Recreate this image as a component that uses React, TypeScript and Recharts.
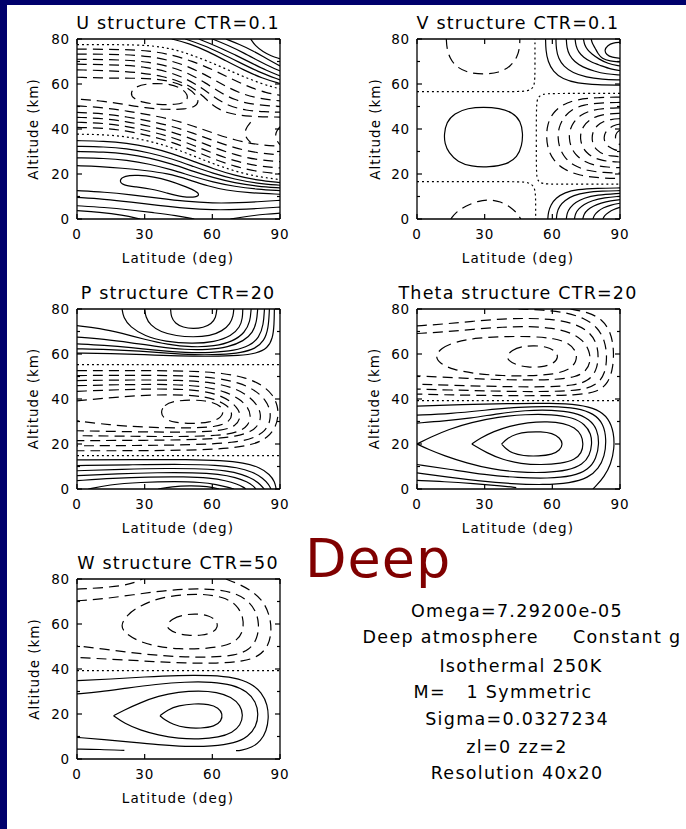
import React from 'react';
import { LineChart, Line, XAxis, YAxis } from 'recharts';

// Each curve: flattened [lat, alt, lat, alt, ...] pairs.
// ---------- U structure ----------
const uZero = [
  [0, 77.5, 20, 77.5, 32, 77.2, 42, 75.8, 52, 72.5, 62, 68.5, 72, 64, 82, 60, 90, 57.8],
  [0, 37.7, 12, 37.5, 22, 36.6, 32, 34.7, 42, 31.8, 52, 27.9, 60, 24.7, 70, 21.2, 80, 18.8, 90, 17.5],
];
const uPositive = [
  [42, 80, 50, 78, 58, 74.5, 66, 70.3, 74, 66.2, 82, 62.6, 90, 60.2],
  [48, 80, 56, 77.3, 64, 73.6, 72, 69.6, 80, 65.6, 90, 61.8],
  [54, 80, 62, 76.8, 70, 73, 78, 69, 84, 66, 90, 63.6],
  [60, 80, 67, 77.2, 74, 73.8, 81, 70, 86, 67.5, 90, 65.8],
  [66, 80, 72, 77.6, 78, 74.8, 84, 71.3, 90, 68],
  [77, 80, 79, 77, 82.5, 74.3, 86, 72.5, 90, 71.2],
  [0, 34.8, 12, 34.6, 22, 33.8, 32, 32, 42, 29.2, 52, 25.5, 60, 22.5, 70, 19.3, 80, 17.2, 90, 16.2],
  [0, 32.3, 12, 32.1, 22, 31.3, 32, 29.5, 42, 26.8, 52, 23.2, 60, 20.4, 70, 17.6, 80, 15.8, 90, 15],
  [0, 30, 12, 29.8, 22, 29, 32, 27.2, 42, 24.5, 52, 21, 60, 18.5, 70, 16, 80, 14.5, 90, 13.8],
  [0, 27.2, 12, 27, 22, 26.2, 32, 24.5, 42, 21.9, 52, 18.7, 60, 16.5, 70, 14.4, 80, 13.2, 90, 12.6],
  [0, 23.7, 10, 23.4, 20, 22.6, 30, 21.6, 40, 20.3, 50, 17.4, 58, 14.6, 66, 12.8, 76, 11.6, 90, 11],
  [0, 12.6, 12, 12, 24, 10.8, 36, 9.3, 48, 7.8, 60, 7, 72, 7.2, 82, 7.8, 90, 8.3],
  [0, 9.6, 12, 8.8, 24, 7.5, 36, 6, 48, 4.7, 60, 4, 72, 4.2, 82, 4.8, 90, 5.3],
  [0, 5.9, 12, 5.2, 24, 4, 34, 2.8, 44, 1.5, 52, 0],
  [0, 3.7, 10, 3, 20, 1.8, 28, 0],
  [68, 0, 76, 1.3, 84, 2.2, 90, 2.6],
];
const uPositiveLoops = [
  [18.5, 17, 21, 19.3, 27, 19.5, 34, 18.8, 41, 17, 47, 14.8, 52, 12.8, 54.5, 11, 53, 9.6, 47, 9.7, 40, 11.5, 33, 13.4, 26, 14.3, 20.5, 14.9],
];
const uNegative = [
  [0, 75.5, 20, 75.4, 32, 74.8, 42, 73, 51, 70.2, 60, 66.5, 68, 62.5, 76, 58.8, 84, 56, 90, 55],
  [0, 73.3, 20, 73.2, 32, 72.4, 42, 70.3, 50, 67.5, 58, 63.5, 65, 59.5, 72, 56, 80, 53.6, 90, 52.5],
  [0, 71, 20, 70.8, 32, 69.8, 42, 67.5, 50, 64.5, 57, 60.5, 63, 56.5, 70, 52.8, 78, 50.8, 90, 50],
  [0, 68.8, 20, 68.5, 30, 67.6, 40, 65.6, 48, 62.6, 55, 58.5, 61, 54, 67, 50.3, 75, 48.2, 83, 47.6, 90, 47.5],
  [0, 66.3, 18, 65.8, 28, 65, 38, 63.5, 46, 61, 52, 58, 56, 54.5, 60, 50.5, 66, 47, 76, 45.5, 90, 45.3],
  [0, 63, 14, 62.6, 24, 62.6, 34, 62.4, 42, 61.2, 49, 58.5, 53, 55, 54, 52, 52.5, 50, 48, 48.8, 40, 48.6, 30, 49.4, 22, 50.8, 12, 52.4, 0, 53.3],
  [0, 50.3, 12, 49.5, 22, 48, 32, 46.3, 42, 44.3, 52, 41.2, 60, 38.3, 70, 35, 80, 33, 90, 32.3],
  [0, 47.4, 12, 46.8, 22, 45.4, 32, 43.6, 42, 41.3, 52, 38, 60, 35, 70, 31.5, 80, 29.3, 90, 28.5],
  [0, 45.2, 12, 44.7, 22, 43.3, 32, 41.3, 42, 38.8, 52, 35.2, 60, 32, 70, 28.5, 80, 26.2, 90, 25.5],
  [0, 43, 12, 42.6, 22, 41.2, 32, 39.1, 42, 36.4, 52, 32.6, 60, 29.3, 70, 25.7, 80, 23.5, 90, 22.7],
  [0, 40.7, 12, 40.4, 22, 39.2, 32, 37.1, 42, 34.2, 52, 30.3, 60, 26.9, 70, 23.3, 80, 21, 90, 20.1],
  [77, 43, 74.5, 40, 74.5, 36.5, 77, 34],
  [90, 41, 88, 38.5, 88, 35.5, 90, 33],
];
const uNegativeLoops = [
  [23.5, 56, 26, 59, 32, 60.3, 40, 60.2, 46, 58.5, 49.5, 55, 48.5, 52, 44, 50.8, 36, 50.8, 29, 51.8, 25, 53.5],
];

// ---------- V structure ----------
const vZero = [
  [0, 56.6, 25, 56.6, 44, 56.6, 49.5, 56.8, 51.8, 58.5, 52.3, 62, 52.3, 70, 52.3, 80],
  [90, 55.8, 75, 55.8, 60, 55.8, 55.5, 55.6, 53.5, 54, 52.9, 51, 52.9, 35, 52.9, 20, 53.4, 17, 55.5, 15.6, 60, 15.5, 75, 15.5, 90, 15.5],
  [0, 16.6, 25, 16.6, 44, 16.6, 49.5, 16.4, 52, 14.5, 52.6, 11, 52.6, 5, 52.6, 0],
];
const vPositive = [
  [57, 80, 57.1, 75, 58, 70, 60.3, 65.5, 64.5, 62.2, 71, 60.3, 80, 59.6, 90, 59.5],
  [61.6, 80, 61.7, 75.5, 62.7, 71.3, 65, 67.8, 69, 65, 75, 63, 82, 62.1, 90, 61.8],
  [66.2, 80, 66.4, 76.2, 67.5, 72.8, 69.8, 69.9, 73.4, 67.5, 78.5, 65.7, 84, 64.4, 90, 64],
  [70.1, 80, 70.4, 77, 71.6, 74.2, 73.8, 71.8, 77, 69.8, 81.5, 68.2, 86, 66.5, 90, 66],
  [73.8, 80, 74.2, 77.5, 75.5, 75.2, 77.6, 73.2, 80.5, 71.2, 84.5, 69, 90, 68],
  [77.2, 80, 77.7, 78, 79, 76, 80.2, 73.5, 82, 71.3, 85.5, 70.2, 90, 69.8],
  [90, 78.5, 87, 78.3, 84.5, 77.2, 83, 75, 84, 73, 86.5, 71.8, 90, 71.4],
  [58, 0, 58.2, 3, 59.3, 6.3, 61.5, 9.3, 65.5, 11.8, 71, 13.2, 80, 13.7, 90, 13.8],
  [61.8, 0, 62, 2.8, 63.2, 5.8, 65.5, 8.3, 69.3, 10.5, 75, 11.9, 82, 12.4, 90, 12.6],
  [66.2, 0, 66.5, 2.6, 67.8, 5.1, 70.2, 7.4, 74, 9.3, 79.5, 10.7, 90, 11.4],
  [69.8, 0, 70.2, 2.4, 71.6, 4.5, 74, 6.5, 77.5, 8.2, 83, 9.5, 90, 10.1],
  [73.5, 0, 74, 2.2, 75.5, 4, 78, 5.7, 81.5, 7.1, 86, 8.2, 90, 8.6],
  [78, 0, 78.6, 1.8, 80.2, 3.5, 82.6, 5, 86, 6.3, 90, 7],
  [82.4, 0, 83.1, 1.5, 84.8, 2.9, 87.2, 4.3, 90, 5.2],
];
const vPositiveLoops = [
  [12, 37.5, 13, 43, 16.5, 47, 22.5, 49.3, 29.5, 49.8, 36.5, 49.3, 42.5, 47.3, 46, 43.5, 47, 38, 46.5, 32.5, 44.5, 27.5, 40, 24.3, 32, 23, 24, 23.3, 18, 25.3, 14, 29.5, 12.3, 33.5],
];
const vNegative = [
  [13, 80, 13.2, 76, 14.5, 71.5, 17.5, 67.5, 22.5, 65, 29.5, 64.2, 36.5, 65, 41.5, 67.8, 44.5, 72, 45.5, 76, 45.6, 80],
  [15, 0, 17, 2.8, 21.5, 5.8, 27, 8, 32, 8.7, 37, 7.8, 41.5, 5.3, 44.5, 2.5, 46, 0],
  [90, 54.2, 80, 54, 71, 53.2, 64.5, 51, 60, 47, 57.8, 42, 57.3, 36.5, 58, 31, 60.5, 26, 65, 22, 72, 19.3, 81, 18.2, 90, 18],
  [90, 51.8, 81, 51.6, 74, 50.8, 68.5, 48.7, 64.8, 45, 62.8, 40.5, 62.4, 36, 63.2, 31.3, 65.6, 27, 69.5, 23.7, 75.5, 21.4, 83, 20.6, 90, 20.4],
  [90, 49.4, 83, 49.2, 77, 48.3, 72.3, 46.2, 69.3, 43, 67.7, 39.5, 67.4, 36, 68.2, 32, 70.2, 28.6, 73.5, 25.8, 78.5, 23.8, 84.5, 23, 90, 22.8],
  [90, 47, 85, 46.8, 80, 45.9, 76.3, 44, 73.8, 41.3, 72.6, 38.5, 72.4, 35.5, 73.2, 32.3, 75, 29.6, 78, 27.3, 82, 26, 86, 25.5, 90, 25.3],
  [90, 44.6, 86, 44.3, 82.5, 43.4, 79.8, 41.6, 78, 39, 77.5, 36, 78, 33, 79.7, 30.6, 82.3, 28.8, 86, 27.9, 90, 27.7],
  [90, 42.2, 87.5, 41.7, 85, 40.3, 83.3, 38.3, 82.8, 36, 83.4, 33.7, 85, 32, 87.5, 30.7, 90, 30.3],
  [90, 39.5, 88.5, 38.5, 87.8, 36.5, 88.3, 34.5, 90, 33],
];

// ---------- P structure ----------
const pZero = [
  [0, 55.3, 45, 55.3, 90, 55.3],
  [0, 14.8, 45, 14.8, 90, 14.8],
];
const pPositive = [
  [41.5, 80, 41.7, 76.5, 43.5, 73.6, 47, 71.8, 51.5, 71.2, 56, 71.7, 59.6, 73.4, 61.6, 76.2, 62, 80],
  [30, 80, 30.4, 76.5, 32.5, 72.8, 37, 69.8, 44, 68, 51.5, 67.5, 59, 68, 64.5, 70.2, 68, 73.5, 69.3, 77, 69.5, 80],
  [20, 80, 20.5, 76.3, 23.5, 72, 30, 68, 39, 65.5, 51, 64.5, 61, 65.3, 68.5, 68, 72.3, 72, 73.4, 76, 73.5, 80],
  [0, 72.6, 10, 71.5, 20, 69.2, 30, 66.5, 40, 64.2, 51, 63, 61, 63.4, 69, 65.5, 74.5, 69.5, 76.8, 74.5, 77.2, 80],
  [0, 67.5, 12, 66.6, 24, 65, 36, 63.2, 48, 61.9, 58, 61.9, 67, 63, 74, 65.8, 78, 69.5, 79.7, 74.5, 80.1, 80],
  [0, 64.5, 12, 63.9, 24, 62.9, 36, 61.5, 48, 60.6, 60, 60.6, 70, 61.5, 76.5, 63.6, 80.8, 67.3, 82.7, 73, 83.1, 80],
  [0, 62.3, 14, 62, 28, 61.3, 40, 60.3, 52, 59.6, 64, 59.7, 73, 60.6, 79, 62.3, 83, 65.8, 84.9, 71.5, 85.3, 80],
  [0, 60.4, 15, 60.2, 30, 59.7, 45, 59.1, 60, 58.9, 72, 59.3, 79.5, 60.2, 84.5, 62.5, 86.8, 67, 87.4, 73, 87.5, 80],
  [0, 12.9, 25, 13.1, 50, 13.1, 64, 12.7, 74, 11.7, 81, 9.6, 85.5, 6.5, 87.7, 3.2, 88.3, 0],
  [0, 10.4, 25, 10.8, 48, 11, 62, 10.6, 71, 9.6, 78, 7.6, 82.5, 4.8, 85, 2, 86, 0],
  [0, 8.1, 20, 8.8, 40, 9.2, 56, 9, 66, 8.2, 73.5, 6.5, 78.5, 4.2, 81.5, 1.8, 83, 0],
  [0, 5.9, 18, 6.8, 36, 7.3, 52, 7.3, 63, 6.6, 70.5, 5.1, 75.5, 3.2, 78.3, 1.3, 79.3, 0],
  [0, 3.7, 16, 4.8, 32, 5.4, 48, 5.5, 59, 4.9, 66, 3.7, 71, 2.2, 74, 0.7, 74.8, 0],
  [5, 0, 14, 1.9, 28, 3, 44, 3.4, 55, 3, 62, 2, 67, 0.8, 69.6, 0],
  [36, 0, 42, 1.1, 50, 1.5, 58, 1.2, 63, 0],
];
const pNegative = [
  [0, 52.6, 25, 52.7, 50, 52.5, 65, 51.5, 75, 49.5, 82, 46.3, 86.8, 42, 89, 37, 89.3, 32, 87.8, 27, 84.5, 22.8, 78.5, 19.8, 68, 18, 50, 17.2, 25, 17, 0, 17],
  [0, 50.4, 25, 50.6, 48, 50.4, 62, 49.4, 72, 47.2, 79, 44, 83.6, 39.6, 85.8, 35, 85.7, 30, 83.5, 25.8, 78.5, 22.6, 70, 20.6, 52, 19.6, 25, 19.3, 0, 19.2],
  [0, 48.2, 25, 48.5, 46, 48.4, 60, 47.4, 69.5, 45, 76, 41.5, 80, 37.3, 81.7, 33, 80.8, 28.8, 77.6, 25.6, 71, 23.4, 58, 22, 30, 21.6, 0, 21.5],
  [0, 45.9, 24, 46.5, 44, 46.5, 57, 45.5, 66, 43.2, 72, 40, 75.8, 36.5, 77.2, 32.5, 76, 28.3, 72, 25.3, 63, 23.7, 45, 23.2, 20, 23.5, 0, 23.7],
  [0, 43.4, 22, 44.3, 42, 44.6, 55, 43.8, 63, 41.8, 68.5, 38.8, 71.8, 35.2, 72.6, 31.8, 70.5, 28, 64, 25.8, 50, 25.2, 25, 25.4, 0, 25.9],
  [0, 39.2, 12, 40.3, 26, 41.5, 40, 42, 53, 41.6, 61, 40, 66.5, 37.3, 69, 34, 68, 30, 62, 27.6, 50, 27, 30, 27.4, 14, 28.5, 0, 30.3],
];
const pNegativeLoops = [
  [37, 34, 38.5, 37.3, 43, 39.1, 50, 39.6, 57, 39.3, 62.5, 37.8, 65.3, 35, 64, 31.6, 59, 29.6, 51, 29, 43, 29.5, 38.5, 31.3],
];

// ---------- Theta structure ----------
const tZero = [[0, 39.3, 45, 39.3, 90, 39.3]];
const tPositive = [
  [37.5, 20, 40, 22.5, 44, 24.5, 49, 25.4, 55, 25.5, 60, 24.8, 63.3, 22.8, 64.8, 20, 63.3, 17.2, 60, 15.3, 54, 14.6, 47, 14.7, 42, 16, 39.5, 17.8, 37.5, 20],
  [24.3, 20, 28, 22.6, 34, 25.6, 41, 28, 49, 29.6, 58, 30, 65, 29.3, 70, 27.3, 73, 24, 73.8, 20, 73, 16, 70, 13, 64, 11.3, 55, 10.7, 46, 11.2, 38, 13, 31, 16, 24.3, 20],
  [0, 20, 6, 23, 14, 26.5, 24, 29.6, 36, 32, 48, 33.2, 60, 33.2, 69, 31.8, 74.5, 28.8, 77.2, 24.5, 77.6, 20, 76.6, 15, 73.5, 10.8, 67, 8.2, 57, 7.2, 45, 7.4, 33, 8.8, 22, 11.5, 12, 14.8, 5, 17.6, 0, 20],
  [0, 29.3, 12, 30.2, 24, 31.5, 36, 33.5, 48, 35, 60, 35.2, 70, 34, 76.5, 31, 80, 26.5, 80.8, 20, 79.5, 13.5, 76, 8.5, 69, 5.6, 58, 4.7, 45, 5, 30, 6.3, 15, 8.7, 0, 10.9],
  [0, 32.8, 15, 33.5, 30, 35, 45, 36.5, 60, 36.8, 71, 36, 78.5, 33.5, 82.7, 29, 84, 22, 83.2, 14.5, 80.5, 9, 76, 5, 68, 2.6, 56, 1.8, 42, 2.3, 28, 3.5, 14, 5.2, 0, 7.2],
  [0, 36.8, 20, 37.5, 40, 38, 60, 38.2, 72, 37.5, 80, 35.5, 85, 31.5, 87.3, 25, 87.5, 18, 86, 11, 83, 5.5, 79.5, 1.5, 78, 0],
  [0, 3.8, 12, 3.3, 25, 2.4, 38, 1.3, 44, 0.6],
];
const tNegative = [
  [0, 69.1, 12, 69.8, 25, 71, 38, 72, 50, 72.3, 60, 71.6, 68, 69.6, 73.5, 66.3, 76.5, 61.5, 77, 56.5, 75, 52.3, 70.5, 49.8, 62, 48.6, 50, 48.4, 36, 48.6, 22, 49.2, 10, 49.8, 0, 50.3],
  [0, 72.5, 12, 73.3, 25, 74.6, 38, 75.6, 50, 75.9, 61, 75.4, 69.5, 73.6, 76, 70.3, 79.6, 65.3, 80.6, 59, 79.6, 52.5, 76, 48, 69.5, 46, 58, 45.4, 44, 45.4, 30, 45.7, 15, 46.1, 0, 46.6],
  [45, 80, 56, 79.6, 66, 78.5, 74, 76, 80, 72, 83.3, 66, 84.3, 59, 83.5, 51.5, 80, 46.3, 73, 43.9, 60, 43.3, 45, 43.3, 30, 43.6, 15, 44, 0, 44.4],
  [68, 80, 76, 78.5, 82, 75.5, 85.8, 70, 87.3, 62.5, 87, 54, 84.8, 47, 80, 43, 70, 41.7, 55, 41.4, 35, 41.5, 15, 41.8, 0, 42.2],
];
const tNegativeLoops = [
  [39.7, 59, 42, 61.8, 46.5, 63.4, 52, 63.8, 57.5, 63.2, 61.5, 61.3, 62.8, 58.5, 60.5, 55.6, 55.5, 54.2, 49, 54, 43.5, 55.3, 40.5, 57.2],
  [8, 59, 10.5, 62.5, 17, 65.5, 27, 67.2, 39, 67.8, 51, 67.8, 61, 67, 67.5, 64.8, 70.8, 61, 70.8, 56.5, 67.5, 53, 61, 51, 50, 50.2, 38, 50.3, 26, 51.2, 16, 53, 10, 55.8],
];

// ---------- W structure ----------
const wZero = [[0, 39.3, 45, 39.3, 90, 39.3]];
const wPositive = [
  [36.8, 19.2, 40, 21.8, 45, 23.8, 52, 24.6, 58.5, 24.4, 62.8, 22.8, 64.6, 20, 64, 16.8, 61, 14.5, 55, 13.6, 48, 13.8, 42.5, 15.4, 39, 17.3, 36.8, 19.2],
  [16.2, 19.2, 21, 21.8, 28, 25, 36, 28, 45, 29.8, 54, 30.4, 62, 29.8, 68.5, 27.6, 72.5, 23.8, 73.7, 19.5, 72.5, 15, 69, 11.7, 63, 9.6, 54, 8.8, 45, 9.1, 36, 10.6, 28, 12.8, 21, 15.8, 16.2, 19.2],
  [0, 28.9, 10, 29.8, 22, 31.5, 35, 33.2, 48, 34.3, 60, 34.3, 69, 33, 75.5, 30, 79.3, 25.5, 80.5, 20, 79.5, 14.5, 76, 10, 70, 7, 60, 5.6, 48, 5.5, 36, 6.3, 24, 7.5, 12, 8.7, 0, 9.6],
  [0, 34.8, 15, 35.5, 30, 36.5, 45, 37.2, 60, 37.2, 70, 36.2, 77, 33.8, 82, 29.5, 84.5, 24, 85, 18, 84, 12.5, 81.5, 8, 77.5, 5, 72.5, 3.8, 70.5, 3.7],
  [0, 4.4, 10, 4.3, 21, 3.8],
];
const wNegative = [
  [0, 70.3, 12, 71.2, 25, 73, 38, 74.8, 50, 75.7, 61, 75.5, 69.5, 74, 75.5, 70.8, 79.3, 66, 80.8, 60, 80, 53.5, 76.5, 48.5, 70, 46, 60, 45.2, 48, 45.3, 36, 46, 24, 47.3, 12, 48.8, 0, 50.3],
  [0, 75.5, 10, 76, 20, 77, 26, 78.5, 29, 80],
  [66, 80, 72.5, 77.5, 78.5, 74, 83, 69.5, 85.5, 63.5, 86.3, 57, 85, 50.5, 81, 45.8, 74, 43.3, 62, 42.5, 48, 42.6, 34, 43.3, 20, 44.1, 8, 44.7, 0, 45.1],
];
const wNegativeLoops = [
  [39.7, 59.5, 42, 62.3, 47, 64.1, 53, 64.6, 58.5, 63.8, 61.8, 61.6, 62.6, 58.8, 60.5, 56.2, 55.5, 54.9, 49, 54.8, 43.5, 56, 40.5, 57.8],
  [19, 59, 22, 64, 28, 68.2, 36, 71.4, 46, 73.1, 56, 73.4, 65, 72, 71, 68.5, 73.8, 63, 73.8, 57, 71, 52.5, 65, 50, 55, 48.9, 45, 48.9, 36, 49.8, 28, 52, 22, 55.3],
];

// ---------- axes ----------
const latTicks = [0, 30, 60, 90];
const altTicks = [0, 10, 20, 30, 40, 50, 60, 70, 80];

const infoLines = [
  'Omega=7.29200e-05',
  'Deep atmosphere     Constant g',
  'Isothermal 250K',
  'M=   1 Symmetric',
  'Sigma=0.0327234',
  'zl=0 zz=2',
  'Resolution 40x20',
];

const FONT = '"DejaVu Sans", Verdana, sans-serif';
const NAVY = '#00006c';

const toPoints = (c: number[]) => {
  const out: { x: number; y: number }[] = [];
  for (let i = 0; i < c.length; i += 2) out.push({ x: c[i], y: c[i + 1] });
  return out;
};

const PW = 203;
const PH = 180;
const ML = 60;
const MR = 12;
const MT = 12;
const MB = 50;
const AX = 1; // axis band thickness (axes with zero size are not drawn)

const BottomTick = (p: any) => (
  <g>
    <line x1={p.x} y1={p.y} x2={p.x} y2={p.y - 5} stroke="#000" strokeWidth={1.2} />
    <text x={p.x} y={p.y + 19.5} textAnchor="middle" fontSize={13.5} letterSpacing={0.8} fontFamily={FONT} fill="#000">
      {p.payload.value}
    </text>
  </g>
);
const TopTick = (p: any) => (
  <line x1={p.x} y1={p.y} x2={p.x} y2={p.y + 5} stroke="#000" strokeWidth={1.2} />
);
const LeftTick = (p: any) => {
  const v = p.payload.value;
  const major = v % 20 === 0;
  return (
    <g>
      <line x1={p.x} y1={p.y} x2={p.x + (major ? 5 : 3)} y2={p.y} stroke="#000" strokeWidth={1.2} />
      {major ? (
        <text x={p.x - 7} y={p.y + 5} textAnchor="end" fontSize={13.5} letterSpacing={0.8} fontFamily={FONT} fill="#000">
          {v}
        </text>
      ) : null}
    </g>
  );
};
const RightTick = (p: any) => {
  const major = p.payload.value % 20 === 0;
  return <line x1={p.x} y1={p.y} x2={p.x - (major ? 5 : 3)} y2={p.y} stroke="#000" strokeWidth={1.2} />;
};

type PanelProps = {
  px: number;
  py: number;
  zero: number[][];
  pos: number[][];
  posLoops?: number[][];
  neg: number[][];
  negLoops?: number[][];
};

function Panel({ px, py, zero, pos, posLoops = [], neg, negLoops = [] }: PanelProps) {
  const mk = (curves: number[][], closed: boolean, dash: string | undefined, key: string) =>
    curves.map((c, i) => (
      <Line
        key={key + i}
        data={toPoints(c)}
        dataKey="y"
        xAxisId="b"
        yAxisId="l"
        type={closed ? 'basisClosed' : 'basis'}
        stroke="#000"
        strokeWidth={1.2}
        strokeDasharray={dash}
        dot={false}
        activeDot={false}
        isAnimationActive={false}
        legendType="none"
      />
    ));
  const axisLine = { stroke: '#000', strokeWidth: 1.3 };
  return (
    <div style={{ position: 'absolute', left: px - ML, top: py - MT }}>
      <LineChart
        width={PW + ML + MR}
        height={PH + MT + MB}
        margin={{ left: ML - AX, right: MR - AX, top: MT - AX, bottom: MB - AX }}
      >
        <XAxis xAxisId="b" dataKey="x" type="number" domain={[0, 90]} ticks={latTicks} interval={0} height={AX}
          tickSize={0} tickMargin={0} tickLine={false} axisLine={axisLine} tick={BottomTick} allowDataOverflow />
        <XAxis xAxisId="t" orientation="top" dataKey="x" type="number" domain={[0, 90]} ticks={latTicks} interval={0}
          height={AX} tickSize={0} tickMargin={0} tickLine={false} axisLine={axisLine} tick={TopTick} allowDataOverflow />
        <YAxis yAxisId="l" dataKey="y" type="number" domain={[0, 80]} ticks={altTicks} interval={0} width={AX}
          tickSize={0} tickMargin={0} tickLine={false} axisLine={axisLine} tick={LeftTick} allowDataOverflow />
        <YAxis yAxisId="r" orientation="right" dataKey="y" type="number" domain={[0, 80]} ticks={altTicks} interval={0}
          width={AX} tickSize={0} tickMargin={0} tickLine={false} axisLine={axisLine} tick={RightTick} allowDataOverflow />
        {mk(zero, false, '2 3', 'z')}
        {mk(pos, false, undefined, 'p')}
        {mk(posLoops, true, undefined, 'pl')}
        {mk(neg, false, '10 6', 'n')}
        {mk(negLoops, true, '10 6', 'nl')}
      </LineChart>
    </div>
  );
}

const panels = [
  { key: 'u', px: 76.5, py: 39, title: 'U structure CTR=0.1', zero: uZero, pos: uPositive, posLoops: uPositiveLoops, neg: uNegative, negLoops: uNegativeLoops, ylx: 33 },
  { key: 'v', px: 416.5, py: 39, title: 'V structure CTR=0.1', zero: vZero, pos: vPositive, posLoops: vPositiveLoops, neg: vNegative, negLoops: [], ylx: 375 },
  { key: 'p', px: 76.5, py: 308.5, title: 'P structure CTR=20', zero: pZero, pos: pPositive, posLoops: [], neg: pNegative, negLoops: pNegativeLoops, ylx: 33 },
  { key: 't', px: 416.5, py: 308.5, title: 'Theta structure CTR=20', zero: tZero, pos: tPositive, posLoops: [], neg: tNegative, negLoops: tNegativeLoops, ylx: 374 },
  { key: 'w', px: 76.5, py: 579, title: 'W structure CTR=50', zero: wZero, pos: wPositive, posLoops: [], neg: wNegative, negLoops: wNegativeLoops, ylx: 34 },
];

const infoY = [617, 643, 671.5, 698, 724.5, 753, 779];
const infoX = [517, 522, 521, 503, 517, 517, 517];

export default function App() {
  return (
    <div style={{ position: 'absolute', left: 0, top: 0, width: 686, height: 829, background: NAVY, overflow: 'hidden' }}>
      <div style={{ position: 'absolute', left: 7, top: 5, right: 0, bottom: 0, background: '#fff' }} />
      {panels.map((p) => (
        <Panel key={p.key} px={p.px} py={p.py} zero={p.zero} pos={p.pos} posLoops={p.posLoops} neg={p.neg} negLoops={p.negLoops} />
      ))}
      <svg width={686} height={829} style={{ position: 'absolute', left: 0, top: 0, pointerEvents: 'none' }}>
        {panels.map((p) => (
          <g key={p.key} fontFamily={FONT} fill="#000">
            <text x={p.px + PW / 2} y={p.py - 10} textAnchor="middle" fontSize={17.5} letterSpacing={1.2}>
              {p.title}
            </text>
            <text x={p.px + PW / 2} y={p.py + PH + 44} textAnchor="middle" fontSize={13.5} letterSpacing={1.2}>
              Latitude (deg)
            </text>
            <text x={p.ylx + 5} y={p.py + PH / 2} textAnchor="middle" fontSize={13.5} letterSpacing={1}
              transform={`rotate(-90 ${p.ylx + 5} ${p.py + PH / 2})`}>
              Altitude (km)
            </text>
          </g>
        ))}
        <text x={305} y={577} fontSize={54} letterSpacing={1} fontFamily={FONT} fill="#800000">
          Deep
        </text>
        {infoLines.map((s, i) => (
          <text key={i} x={infoX[i]} y={infoY[i]} textAnchor="middle" fontSize={17.5} letterSpacing={1.3}
            fontFamily={FONT} fill="#000" style={{ whiteSpace: 'pre' }}>
            {s}
          </text>
        ))}
      </svg>
    </div>
  );
}
